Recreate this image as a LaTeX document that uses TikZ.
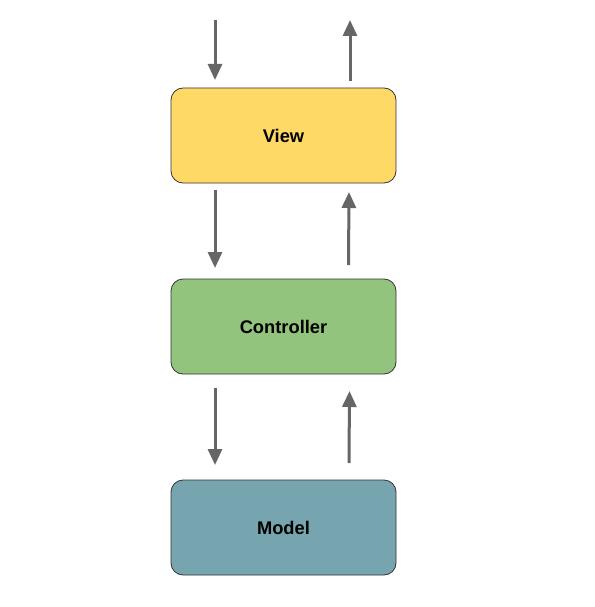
\documentclass[tikz,border=0pt]{standalone}
\usepackage{fontspec}
\setmainfont{Liberation Sans}
\usetikzlibrary{arrows.meta}
\definecolor{viewc}{HTML}{FFD966}
\definecolor{ctrlc}{HTML}{93C47D}
\definecolor{modelc}{HTML}{76A5AF}
\definecolor{arrc}{HTML}{666666}
\begin{document}
\begin{tikzpicture}[x=1pt,y=-1pt,
  box/.style={draw=black!80,line width=0.8pt,rounded corners=12pt,minimum width=225pt,minimum height=95pt,inner sep=0pt,font=\fontsize{18.3}{21}\selectfont\bfseries},
  flow/.style={draw=arrc,line width=3pt,-{Triangle[length=16pt,width=14pt]}}]
\useasboundingbox (0,0) rectangle (594,607);
\fill[white] (0,0) rectangle (594,607);
\node[box,fill=viewc] (view) at (283.5,135.5) {View};
\node[box,fill=ctrlc] (ctrl) at (283.5,326.5) {Controller};
\node[box,fill=modelc] (model) at (283.5,527.5) {Model};
\coordinate (a1s) at (215,20); \coordinate (a1e) at (215,80);
\coordinate (a2s) at (350,81); \coordinate (a2e) at (350,20);
\coordinate (a3s) at (215,190); \coordinate (a3e) at (215,268);
\coordinate (a4s) at (348.5,265); \coordinate (a4e) at (349,192);
\coordinate (a5s) at (215,388); \coordinate (a5e) at (215,465);
\coordinate (a6s) at (349,463); \coordinate (a6e) at (349.5,391);
\draw[flow] (a1s) -- (a1e);
\draw[flow] (a2s) -- (a2e);
\draw[flow] (a3s) -- (a3e);
\draw[flow] (a4s) -- (a4e);
\draw[flow] (a5s) -- (a5e);
\draw[flow] (a6s) -- (a6e);
\end{tikzpicture}
\end{document}
